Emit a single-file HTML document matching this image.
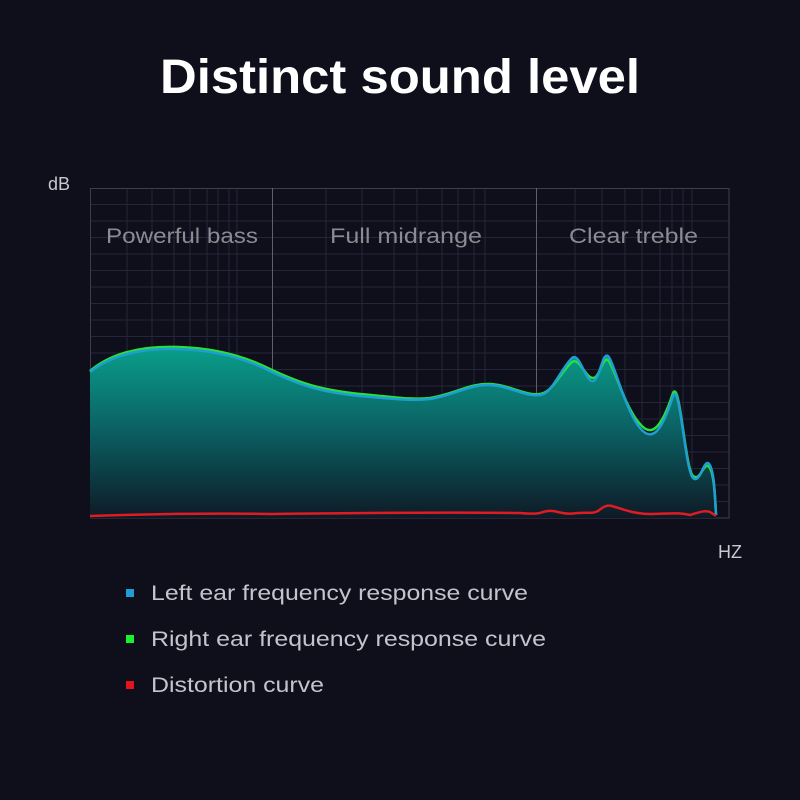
<!DOCTYPE html>
<html><head><meta charset="utf-8"><style>
html,body{margin:0;padding:0;background:#0f0f1b;}
svg{display:block;}
</style></head><body>
<svg width="800" height="800" viewBox="0 0 800 800" xmlns="http://www.w3.org/2000/svg" font-family="Liberation Sans, sans-serif">
<defs>
<linearGradient id="fg" x1="0" y1="345" x2="0" y2="518" gradientUnits="userSpaceOnUse">
<stop offset="0" stop-color="#0aa08c"/>
<stop offset="0.5" stop-color="#0b5f62"/>
<stop offset="1" stop-color="#0e1a26"/>
</linearGradient>
</defs>
<rect width="800" height="800" fill="#0f0f1b"/>
<text x="400" y="93" text-anchor="middle" font-size="48" font-weight="bold" fill="#fff" textLength="480" lengthAdjust="spacingAndGlyphs">Distinct sound level</text>
<text x="48" y="190" font-size="18" fill="#c8c8d0">dB</text>
<text x="718" y="558" font-size="18" fill="#c8c8d0">HZ</text>
<g stroke="#24253a" stroke-width="1">
<path d="M90 204.5H729M90 221H729M90 237.5H729M90 254H729M90 270.5H729M90 287H729M90 303.5H729M90 320H729M90 336.5H729M90 353H729M90 369.5H729M90 386H729M90 402.5H729M90 419H729M90 435.5H729M90 452H729M90 468.5H729M90 485H729M90 501.5H729"/>
<path d="M127 188V518M152 188V518M174 188V518M190 188V518M207 188V518M218 188V518M229 188V518M237 188V518M326 188V518M362 188V518M394 188V518M417 188V518M442 188V518M458 188V518M474 188V518M485 188V518M575 188V518M602 188V518M625 188V518M642 188V518M660 188V518M672 188V518M683 188V518M692 188V518"/>
</g>
<rect x="90.5" y="188.5" width="638.5" height="329.5" fill="none" stroke="#3c3d50"/>
<path d="M272.5 188V518M536.5 188V518" stroke="#5e5f70" stroke-width="1"/>
<g font-size="21" fill="#8a8b94">
<text x="106" y="243" textLength="152" lengthAdjust="spacingAndGlyphs">Powerful bass</text>
<text x="330" y="243" textLength="152" lengthAdjust="spacingAndGlyphs">Full midrange</text>
<text x="569" y="243" textLength="129" lengthAdjust="spacingAndGlyphs">Clear treble</text>
</g>
<path d="M90 372 C115 352,150 348,178 349 C215 350,245 358,272 372 C300 385,320 392,360 396 C395 399,410 401,430 399 C455 395,470 384,490 385 C510 386,525 397,540 395 C552 394,560 370,572 358 C580 352,585 382,593 381 C600 380,602 352,608 356 C614 362,625 410,640 428 C650 440,660 438,673 396 C680 380,685 470,693 478 C700 484,703 462,708 463 C714 466,715 495,716 515 L716 518 L90 518 Z" fill="url(#fg)"/>
<path d="M90 371 C115 350,150 346,178 347 C215 348,245 356,272 370 C300 383,320 390,360 394 C395 397,410 400,430 398 C455 394,470 383,490 384 C510 385,525 396,540 394 C552 393,560 373,572 362 C580 357,585 378,593 378 C600 378,602 357,608 360 C614 366,625 408,640 424 C650 436,660 433,673 393 C680 379,685 468,693 476 C700 482,703 464,708 466 C714 470,715 495,716 515" fill="none" stroke="#28e03c" stroke-width="2.5"/>
<path d="M90 372 C115 352,150 348,178 349 C215 350,245 358,272 372 C300 385,320 392,360 396 C395 399,410 401,430 399 C455 395,470 384,490 385 C510 386,525 397,540 395 C552 394,560 370,572 358 C580 352,585 382,593 381 C600 380,602 352,608 356 C614 362,625 410,640 428 C650 440,660 438,673 396 C680 380,685 470,693 478 C700 484,703 462,708 463 C714 466,715 495,716 515" fill="none" stroke="#1e9ed2" stroke-width="2.5"/>
<path d="M90 516 C150 514,200 513,272 514 C350 513,450 512,520 513 C530 514,535 514,540 513 C545 511,550 510,558 512 C566 514,570 514,578 513 C590 512,592 514,598 511 C604 506,607 505,612 506 C625 510,635 514,650 514 C665 514,678 512,690 515 C700 512,705 510,710 512 C713 514,715 515,716 516" fill="none" stroke="#e01b24" stroke-width="2.5"/>
<rect x="126" y="589" width="8" height="8" fill="#1e9ed8"/>
<rect x="126" y="635" width="8" height="8" fill="#17f22a"/>
<rect x="126" y="681" width="8" height="8" fill="#e3121c"/>
<g font-size="21" fill="#c4c4cc">
<text x="151" y="600" textLength="377" lengthAdjust="spacingAndGlyphs">Left ear frequency response curve</text>
<text x="151" y="646" textLength="395" lengthAdjust="spacingAndGlyphs">Right ear frequency response curve</text>
<text x="151" y="692" textLength="173" lengthAdjust="spacingAndGlyphs">Distortion curve</text>
</g>
</svg>
</body></html>
